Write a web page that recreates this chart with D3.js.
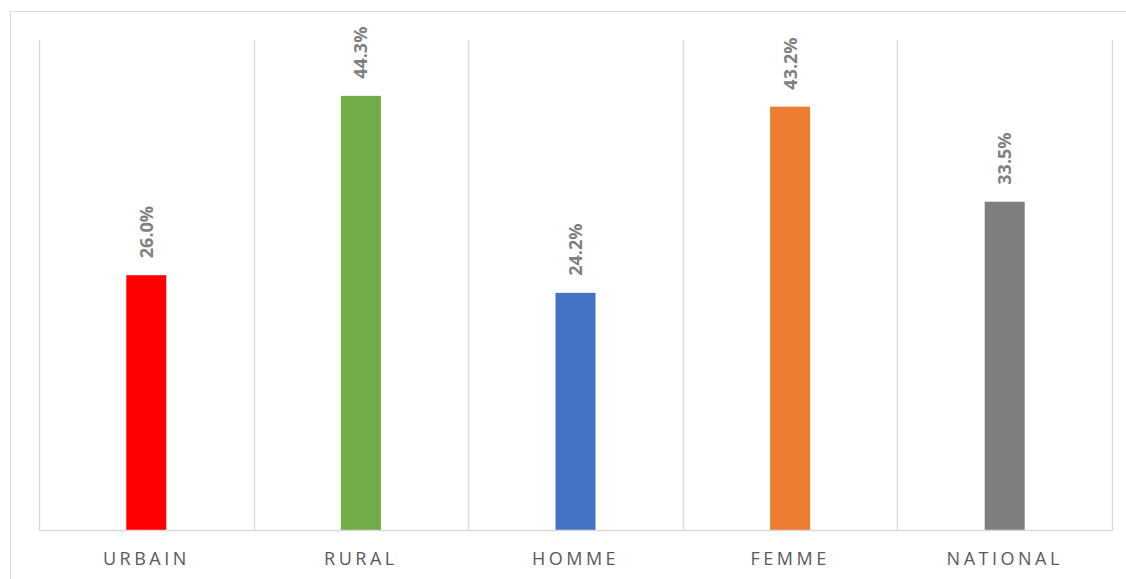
<!DOCTYPE html>
<html><head><meta charset="utf-8">
<script src="https://cdn.jsdelivr.net/npm/d3@7"></script>
<style>html,body{margin:0;padding:0;background:#fff;}svg{display:block;}</style>
</head><body>
<svg id="chart" width="1126" height="579"></svg>
<script>
const categories = ["URBAIN", "RURAL", "HOMME", "FEMME", "NATIONAL"];
const values = [26.0, 44.3, 24.2, 43.2, 33.5];
const colors = ["#ff0000", "#70ad47", "#4472c4", "#ed7d31", "#7f7f7f"];
const yMax = 50;

const svg = d3.select("#chart");
const W = 1126, H = 579;
const m = {left: 39, right: 14, top: 40, bottom: 49};
const iw = W - m.left - m.right, ih = H - m.top - m.bottom;

svg.append("rect").attr("x", 10.5).attr("y", 11.5).attr("width", W).attr("height", H)
  .attr("fill", "#fff").attr("stroke", "#d9d9d9").attr("stroke-width", 1);

const g = svg.append("g").attr("transform", `translate(${m.left},${m.top})`);
const x = d3.scaleBand().domain(categories).range([0, iw]).paddingInner(0).paddingOuter(0);
const y = d3.scaleLinear().domain([0, yMax]).range([ih, 0]);

// vertical category separators
const seps = categories.map((c) => x(c)).concat([iw]);
g.selectAll("line.sep").data(seps).join("line")
  .attr("x1", d => Math.round(d) + 0.5).attr("x2", d => Math.round(d) + 0.5)
  .attr("y1", 0).attr("y2", ih)
  .attr("stroke", "#d9d9d9").attr("stroke-width", 1.3);

const bw = 40;
g.selectAll("rect.bar").data(values).join("rect")
  .attr("x", (d, i) => x(categories[i]) + x.bandwidth() / 2 - bw / 2)
  .attr("y", d => y(d)).attr("width", bw).attr("height", d => ih - y(d))
  .attr("fill", (d, i) => colors[i]);

// baseline axis
const xAxis = d3.axisBottom(x).tickSize(0).tickPadding(22);
const ax = g.append("g").attr("transform", `translate(0,${ih})`).call(xAxis);
ax.select(".domain").attr("stroke", "#d9d9d9").attr("stroke-width", 1.3);
ax.selectAll(".tick text")
  .attr("font-family", "'Open Sans', sans-serif").attr("font-size", 18)
  .attr("fill", "#595959").attr("letter-spacing", "3.5px");

// value labels rotated
g.selectAll("text.val").data(values).join("text")
  .attr("transform", (d, i) => `translate(${x(categories[i]) + x.bandwidth() / 2 + 6.5},${y(d) - 17}) rotate(-90)`)
  .attr("font-family", "'Open Sans', sans-serif").attr("font-weight", "bold")
  .attr("font-size", 18).attr("fill", "#7f7f7f")
  .text(d => d.toFixed(1) + "%");
</script>
</body></html>
